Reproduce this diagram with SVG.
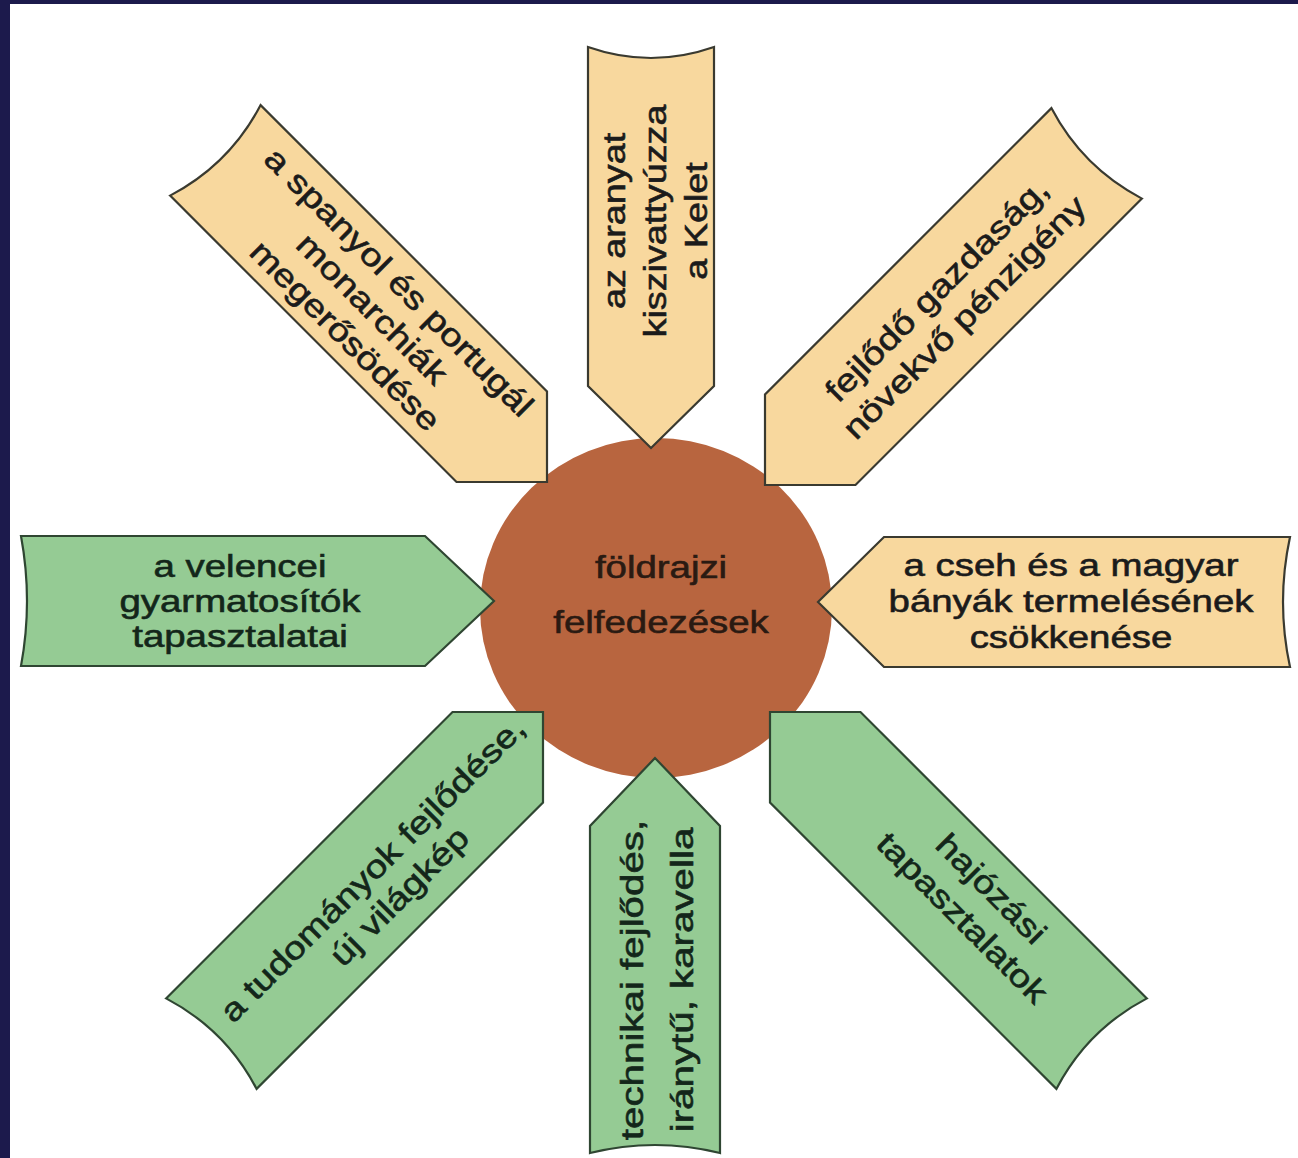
<svg xmlns="http://www.w3.org/2000/svg" width="1298" height="1158" viewBox="0 0 1298 1158">
  <style>
    .tan { fill:#F8D89E; stroke:#3a3a30; stroke-width:2.2; stroke-linejoin:miter; }
    .green { fill:#95CB94; stroke:#2f4632; stroke-width:2.2; stroke-linejoin:miter; }
    .lbl { font-family:"Liberation Sans", Arial, Helvetica, sans-serif; font-size:32px; fill:#1b1b1b; stroke:#1b1b1b; stroke-width:0.6; text-anchor:middle; }
    .glbl { fill:#13261a; stroke:#13261a; }
    .hub { fill:#B8653F; }
    .hubtxt { fill:#2a1a12; stroke:#2a1a12; }
  </style>
  <rect x="0" y="0" width="1298" height="1158" fill="#ffffff"/>
  <rect x="0" y="0" width="1298" height="4" fill="#1c1a4c"/>
  <rect x="0" y="0" width="10" height="1158" fill="#1c1a4c"/>

  <g id="hub">
    <ellipse class="hub" cx="656" cy="608" rx="176" ry="170"/>
  </g>

  <g id="connectors"></g>

  <g id="node-top">
    <path class="tan" transform="translate(651,448)" d="M0,0 L63,-62 L63,-401 Q0,-379 -63,-401 L-63,-62 Z"/>
    <g transform="translate(657,221) rotate(-90) scale(1.18,1)">
      <text class="lbl" x="0" y="-32">az aranyat</text>
      <text class="lbl" x="0" y="9">kiszivattyúzza</text>
      <text class="lbl" x="0" y="50">a Kelet</text>
    </g>
  </g>

  <g id="node-upper-left">
    <path class="tan" transform="translate(547,482) rotate(-45)" d="M0,0 L64,-64 L64,-469 Q0,-449 -64,-469 L-64,-64 Z"/>
    <g transform="translate(370,311) rotate(45) scale(1.2,1)">
      <text class="lbl" x="0" y="-30">a spanyol és portugál</text>
      <text class="lbl" x="0" y="8">monarchiák</text>
      <text class="lbl" x="0" y="46">megerősödése</text>
    </g>
  </g>

  <g id="node-upper-right">
    <path class="tan" transform="translate(765,485) rotate(45)" d="M0,0 L64,-64 L64,-469 Q0,-449 -64,-469 L-64,-64 Z"/>
    <g transform="translate(953,306) rotate(-45) scale(1.2,1)">
      <text class="lbl" x="0" y="-12">fejlődő gazdaság,</text>
      <text class="lbl" x="0" y="27">növekvő pénzigény</text>
    </g>
  </g>

  <g id="node-right">
    <path class="tan" transform="translate(818,602) rotate(90)" d="M0,0 L65,-66 L65,-472 Q0,-458 -65,-472 L-65,-66 Z"/>
    <g transform="translate(1071,604) scale(1.2,1)">
      <text class="lbl" x="0" y="-28">a cseh és a magyar</text>
      <text class="lbl" x="0" y="8">bányák termelésének</text>
      <text class="lbl" x="0" y="44">csökkenése</text>
    </g>
  </g>

  <g id="node-left">
    <path class="green" transform="translate(494,601) rotate(-90)" d="M0,0 L65,-69 L65,-473 Q0,-461 -65,-473 L-65,-69 Z"/>
    <g transform="translate(240,604) scale(1.2,1)">
      <text class="lbl glbl" x="0" y="-27">a velencei</text>
      <text class="lbl glbl" x="0" y="8">gyarmatosítók</text>
      <text class="lbl glbl" x="0" y="43">tapasztalatai</text>
    </g>
  </g>

  <g id="node-lower-left">
    <path class="green" transform="translate(543,712) rotate(-135)" d="M0,0 L64,-64 L64,-469 Q0,-449 -64,-469 L-64,-64 Z"/>
    <g transform="translate(388,885) rotate(-45) scale(1.2,1)">
      <text class="lbl glbl" x="0" y="-11">a tudományok fejlődése,</text>
      <text class="lbl glbl" x="0" y="27">új világkép</text>
    </g>
  </g>

  <g id="node-bottom">
    <path class="green" transform="translate(655,758) rotate(180)" d="M0,0 L65,-68 L65,-395 Q0,-379 -65,-395 L-65,-68 Z"/>
    <g transform="translate(660,980) rotate(-90) scale(1.26,1)">
      <text class="lbl glbl" x="0" y="-17">technikai fejlődés,</text>
      <text class="lbl glbl" x="0" y="33">iránytű, karavella</text>
    </g>
  </g>

  <g id="node-lower-right">
    <path class="green" transform="translate(770,712) rotate(135)" d="M0,0 L64,-64 L64,-469 Q0,-449 -64,-469 L-64,-64 Z"/>
    <g transform="translate(975,905) rotate(45) scale(1.2,1)">
      <text class="lbl glbl" x="0" y="-12">hajózási</text>
      <text class="lbl glbl" x="0" y="29">tapasztalatok</text>
    </g>
  </g>

  <g id="hub-label">
    <g transform="translate(661,0) scale(1.2,1)">
      <text class="lbl hubtxt" x="0" y="578">földrajzi</text>
      <text class="lbl hubtxt" x="0" y="633">felfedezések</text>
    </g>
  </g>
</svg>
